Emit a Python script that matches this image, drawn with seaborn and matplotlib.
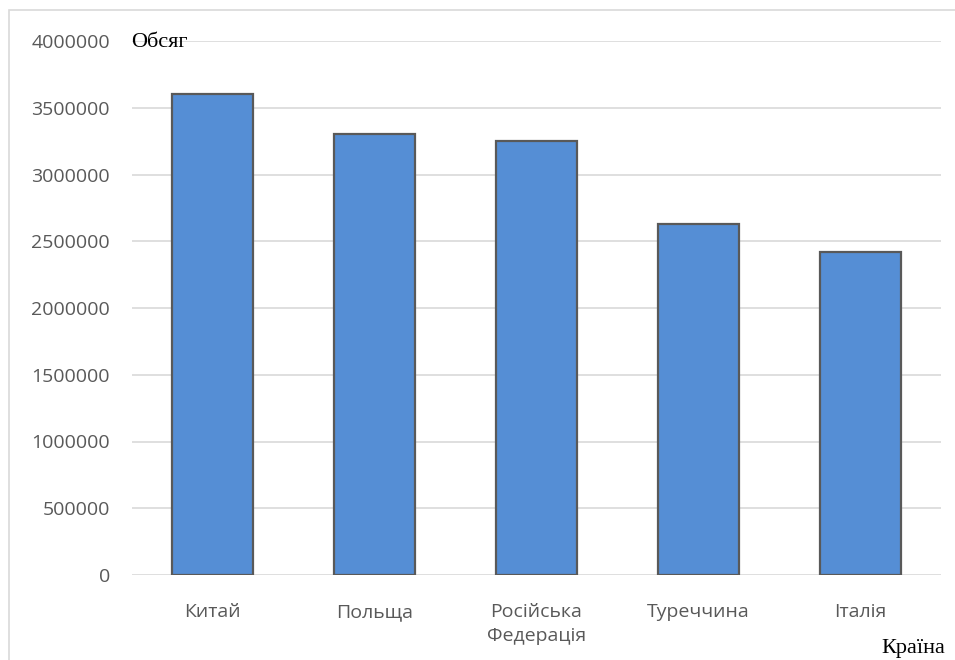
import matplotlib
matplotlib.use("Agg")
import matplotlib.pyplot as plt
import matplotlib.patches as mpatches
import seaborn as sns
import pandas as pd

countries = ["Китай", "Польща", "Російська\nФедерація", "Туреччина", "Італія"]
volumes = [3600000, 3300000, 3250000, 2630000, 2420000]
yticks = [0, 500000, 1000000, 1500000, 2000000, 2500000, 3000000, 3500000, 4000000]

df = pd.DataFrame({"Країна": countries, "Обсяг": volumes})

sns.set_theme(style="white")
plt.rcParams['font.family'] = ['Open Sans', 'DejaVu Sans']

fig = plt.figure(figsize=(9.55, 6.6), dpi=100)
ax = fig.add_axes([132/955, (660-575)/660, (941-132)/955, (575-41)/660])

sns.barplot(data=df, x="Країна", y="Обсяг", color="#558ED5", width=0.5,
            edgecolor="#595959", linewidth=1.6, saturation=1, ax=ax, zorder=3)

ax.set_ylim(0, 4000000)
ax.set_xlim(-0.5, len(countries) - 0.5)
ax.set_yticks(yticks)
ax.set_yticklabels([str(v) for v in yticks])
ax.yaxis.grid(True, color="#d9d9d9", linewidth=1.2, zorder=0)
ax.set_axisbelow(True)
for s in ax.spines.values():
    s.set_visible(False)
ax.tick_params(axis="both", length=0, labelsize=14, labelcolor="#595959")
ax.tick_params(axis="y", pad=16)
ax.tick_params(axis="x", pad=20)
for lbl in ax.get_xticklabels():
    lbl.set_linespacing(1.45)
ax.set_xlabel("")
ax.set_ylabel("")

fig.text(131/955, 1 - 47/660, "Обсяг", family="Liberation Serif", fontsize=16,
         color="black", ha="left", va="baseline")
fig.text(945/955, 1 - 653/660, "Країна", family="Liberation Serif", fontsize=16,
         color="black", ha="right", va="baseline")

border = mpatches.Rectangle((9/955, -0.01), 1.0, 1 - 10/660 + 0.01,
                            transform=fig.transFigure, fill=False,
                            edgecolor="#d9d9d9", linewidth=1.2)
fig.patches.append(border)

fig.savefig("out.png", dpi=100)
